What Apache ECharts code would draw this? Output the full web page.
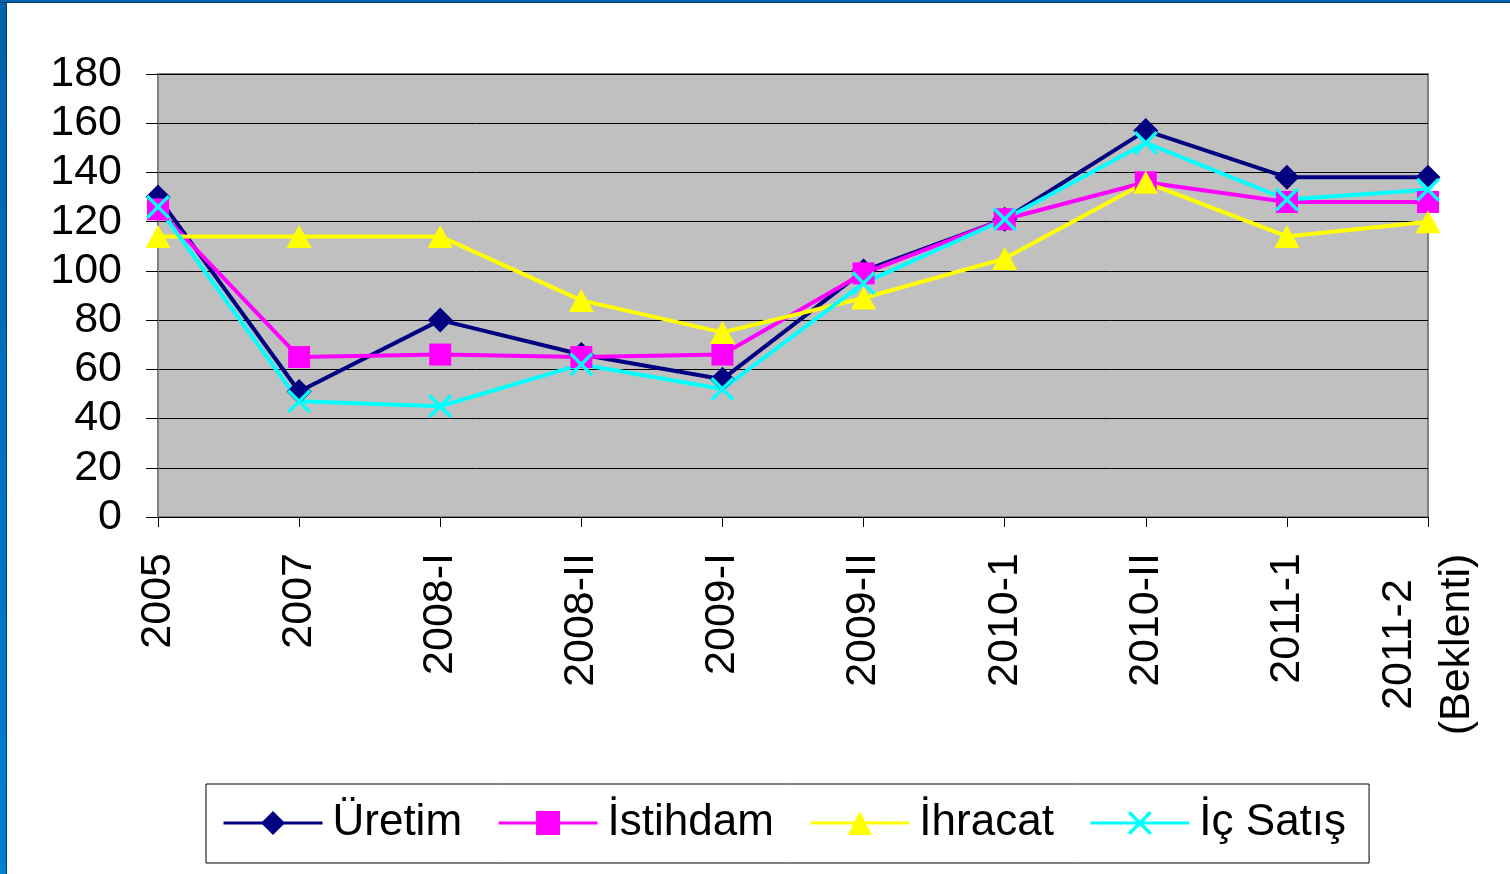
<!DOCTYPE html>
<html>
<head>
<meta charset="utf-8">
<script src="https://cdn.jsdelivr.net/npm/echarts@6/dist/echarts.min.js"></script>
<style>
  html, body { margin: 0; padding: 0; background: #fff; }
  .frame { position: relative; width: 1510px; height: 874px; overflow: hidden; }
  .left-bar { position: absolute; left: 0; top: 0; width: 6px; height: 874px;
    background: linear-gradient(#0062aa, #0080d2); border-right: 1px solid #003a70; }
  .top-bar { position: absolute; left: 0; top: 0; width: 1510px; height: 2px;
    background: #0062aa; border-bottom: 1px solid #003a70; }
  #chart_main { position: absolute; left: 0; top: 0; width: 1510px; height: 874px; }
</style>
</head>
<body>
<div class="frame">
  <div id="chart_main"></div>
  <div class="left-bar"></div>
  <div class="top-bar"></div>
</div>
<script>
const categories = ["2005", "2007", "2008-I", "2008-II", "2009-I", "2009-II", "2010-1", "2010-II", "2011-1", "2011-2\n(Beklenti)"];
const uretim   = [130, 51, 80, 66, 56, 100, 121, 157, 138, 138];
const istihdam = [125, 65, 66, 65, 66, 99, 121, 136, 128, 128];
const ihracat  = [114, 114, 114, 88, 75, 89, 105, 136, 114, 120];
const icSatis  = [126, 47, 45, 62, 52, 95, 121, 152, 129, 133];
const seriesNames = ["Üretim", "İstihdam", "İhracat", "İç Satış"];
const yTicks = { min: 0, max: 180, interval: 20 };

// X isaretini dolu bir cokgen olarak ciz
const crossPath = "path://M0,1 L1,0 L5,4 L9,0 L10,1 L6,5 L10,9 L9,10 L5,6 L1,10 L0,9 L4,5 Z";
const FONT = "Liberation Sans, Arial, sans-serif";

function makeSeries(name, data, color, symbol, size) {
  return {
    name: name,
    type: "line",
    data: data,
    symbol: symbol,
    symbolSize: size,
    color: color,
    lineStyle: { color: color, width: 4 },
    itemStyle: { color: color },
  };
}

const myChart = echarts.init(document.getElementById("chart_main"));
const option = {
  animation: false,
  grid: {
    left: 158,
    top: 74,
    width: 1270,
    height: 443,
    show: true,
    backgroundColor: "#c0c0c0",
    borderColor: "#808080",
    borderWidth: 2,
  },
  legend: {
    left: 206,
    top: 784,
    padding: [17, 23, 18, 16],
    borderColor: "#000",
    borderWidth: 1,
    backgroundColor: "#fff",
    itemWidth: 99,
    itemHeight: 30,
    itemGap: 35,
    lineStyle: { width: 3 },
    textStyle: { fontFamily: FONT, fontSize: 44, color: "#000", padding: [0, 0, 0, 5] },
    data: seriesNames,
  },
  xAxis: {
    type: "category",
    boundaryGap: false,
    data: categories,
    axisLine: { lineStyle: { color: "#000", width: 1 } },
    axisTick: { show: true, length: 10, lineStyle: { color: "#000" } },
    axisLabel: {
      rotate: 90,
      margin: 36,
      interval: 0,
      fontFamily: FONT,
      fontSize: 43,
      color: "#000",
      formatter: function (v) {
        if (v.indexOf("\n") >= 0) {
          const parts = v.split("\n");
          return "{c|" + parts[0] + "}\n{c|" + parts[1] + "}";
        }
        return v;
      },
      rich: {
        c: { width: 183, align: "center", lineHeight: 58, fontFamily: FONT, fontSize: 43, color: "#000" },
      },
    },
  },
  yAxis: {
    type: "value",
    min: yTicks.min,
    max: yTicks.max,
    interval: yTicks.interval,
    axisLine: { show: true, lineStyle: { color: "#808080", width: 2 } },
    axisTick: { show: true, length: 12, lineStyle: { color: "#000" } },
    splitLine: { show: true, lineStyle: { color: "#000", width: 1 } },
    axisLabel: { margin: 36, fontFamily: FONT, fontSize: 43, color: "#000" },
  },
  series: [
    makeSeries(seriesNames[0], uretim, "#000080", "diamond", [25, 25]),
    makeSeries(seriesNames[1], istihdam, "#ff00ff", "rect", 22),
    makeSeries(seriesNames[2], ihracat, "#ffff00", "triangle", [25, 23]),
    makeSeries(seriesNames[3], icSatis, "#00ffff", crossPath, 24),
  ],
};
myChart.setOption(option);
window.addEventListener("resize", () => {
  myChart.resize();
});
</script>
</body>
</html>
